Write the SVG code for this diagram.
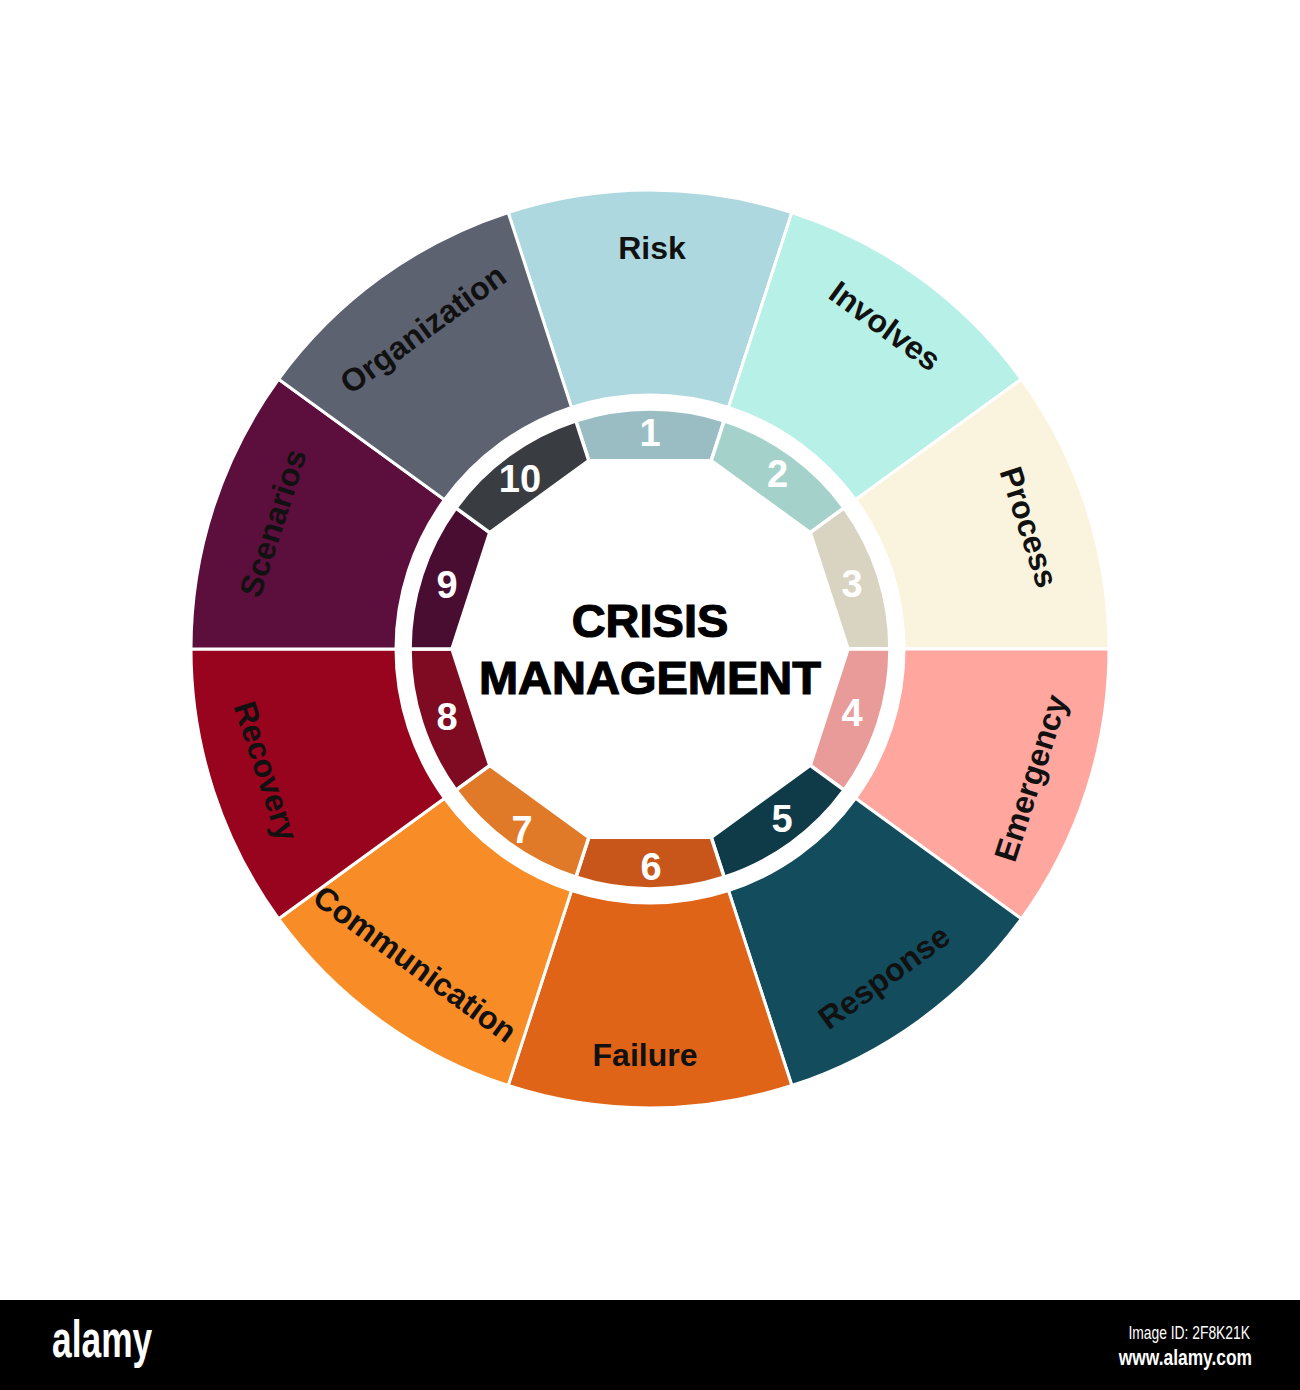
<svg xmlns="http://www.w3.org/2000/svg" xmlns:xlink="http://www.w3.org/1999/xlink" width="1300" height="1390" viewBox="0 0 1300 1390">
  <style>
    .seg { stroke: #ffffff; stroke-width: 3; stroke-linejoin: miter; }
    .num { stroke: #ffffff; stroke-width: 3.5; }
    .lbl { font-family: "Liberation Sans", Arial, sans-serif; font-weight: bold; font-size: 32px; fill: #111111; text-anchor: middle; }
    .n { font-family: "Liberation Sans", Arial, sans-serif; font-weight: bold; font-size: 38px; fill: #ffffff; text-anchor: middle; }
    .title { font-family: "Liberation Sans", Arial, sans-serif; font-weight: bold; font-size: 47px; fill: #000000; stroke: #000000; stroke-width: 1.2; text-anchor: middle; }
    .foot { font-family: "Liberation Sans", Arial, sans-serif; fill: #ffffff; }
  </style>
  <defs>
    <path id="outerSeg" d="M 571.51 407.43 L 508.16 212.46 A 459 459 0 0 1 791.84 212.46 L 728.49 407.43 A 254 254 0 0 0 571.51 407.43 Z"/>
    <path id="innerSeg" d="M 588.81 460.69 L 575.84 420.75 A 240 240 0 0 1 724.16 420.75 L 711.19 460.69 Z"/>
  </defs>
  <rect x="0" y="0" width="1300" height="1390" fill="#ffffff"/>

  <g id="seg1">
    <use xlink:href="#outerSeg" href="#outerSeg" class="seg" fill="#AED8DF"/>
    <use xlink:href="#innerSeg" href="#innerSeg" class="num" fill="#99BDC3"/>
    <text class="lbl" transform="translate(652,248)" y="11">Risk</text>
    <text class="n" x="650" y="446">1</text>
  </g>
  <g id="seg2">
    <use xlink:href="#outerSeg" href="#outerSeg" class="seg" fill="#B6F0E6" transform="rotate(36 650 649)"/>
    <use xlink:href="#innerSeg" href="#innerSeg" class="num" fill="#A4D2CA" transform="rotate(36 650 649)"/>
    <text class="lbl" transform="translate(885,326) rotate(36)" y="11">Involves</text>
    <text class="n" x="777.5" y="487">2</text>
  </g>
  <g id="seg3">
    <use xlink:href="#outerSeg" href="#outerSeg" class="seg" fill="#FAF4DF" transform="rotate(72 650 649)"/>
    <use xlink:href="#innerSeg" href="#innerSeg" class="num" fill="#D9D3C2" transform="rotate(72 650 649)"/>
    <text class="lbl" transform="translate(1029,527) rotate(72)" y="11">Process</text>
    <text class="n" x="852" y="597">3</text>
  </g>
  <g id="seg4">
    <use xlink:href="#outerSeg" href="#outerSeg" class="seg" fill="#FFA69F" transform="rotate(108 650 649)"/>
    <use xlink:href="#innerSeg" href="#innerSeg" class="num" fill="#E89B98" transform="rotate(108 650 649)"/>
    <text class="lbl" transform="translate(1031,778) rotate(-72)" y="11">Emergency</text>
    <text class="n" x="852" y="726">4</text>
  </g>
  <g id="seg5">
    <use xlink:href="#outerSeg" href="#outerSeg" class="seg" fill="#134C5D" transform="rotate(144 650 649)"/>
    <use xlink:href="#innerSeg" href="#innerSeg" class="num" fill="#0F3A48" transform="rotate(144 650 649)"/>
    <text class="lbl" transform="translate(884,977) rotate(-36)" y="11">Response</text>
    <text class="n" x="782" y="832">5</text>
  </g>
  <g id="seg6">
    <use xlink:href="#outerSeg" href="#outerSeg" class="seg" fill="#E06418" transform="rotate(180 650 649)"/>
    <use xlink:href="#innerSeg" href="#innerSeg" class="num" fill="#C8561A" transform="rotate(180 650 649)"/>
    <text class="lbl" transform="translate(645,1055)" y="11">Failure</text>
    <text class="n" x="651" y="880">6</text>
  </g>
  <g id="seg7">
    <use xlink:href="#outerSeg" href="#outerSeg" class="seg" fill="#F88D28" transform="rotate(216 650 649)"/>
    <use xlink:href="#innerSeg" href="#innerSeg" class="num" fill="#E07A28" transform="rotate(216 650 649)"/>
    <text class="lbl" transform="translate(415,964) rotate(36)" y="11">Communication</text>
    <text class="n" x="522" y="843">7</text>
  </g>
  <g id="seg8">
    <use xlink:href="#outerSeg" href="#outerSeg" class="seg" fill="#98041E" transform="rotate(252 650 649)"/>
    <use xlink:href="#innerSeg" href="#innerSeg" class="num" fill="#7E0B22" transform="rotate(252 650 649)"/>
    <text class="lbl" transform="translate(266,771) rotate(72)" y="11">Recovery</text>
    <text class="n" x="447" y="730">8</text>
  </g>
  <g id="seg9">
    <use xlink:href="#outerSeg" href="#outerSeg" class="seg" fill="#5C0F3C" transform="rotate(288 650 649)"/>
    <use xlink:href="#innerSeg" href="#innerSeg" class="num" fill="#4A0D32" transform="rotate(288 650 649)"/>
    <text class="lbl" transform="translate(273,523) rotate(-72)" y="11">Scenarios</text>
    <text class="n" x="447" y="598">9</text>
  </g>
  <g id="seg10">
    <use xlink:href="#outerSeg" href="#outerSeg" class="seg" fill="#5D6270" transform="rotate(324 650 649)"/>
    <use xlink:href="#innerSeg" href="#innerSeg" class="num" fill="#393C41" transform="rotate(324 650 649)"/>
    <text class="lbl" transform="translate(423,329) rotate(-36)" y="11">Organization</text>
    <text class="n" x="520" y="492">10</text>
  </g>

  <g id="center">
    <text class="title" x="650" y="637">CRISIS</text>
    <text class="title" x="650" y="694">MANAGEMENT</text>
  </g>

  <g id="connectors"></g>

  <g id="footer">
    <rect x="0" y="1300" width="1300" height="90" fill="#000000"/>
    <text class="foot" transform="translate(52,1357) scale(0.68,1)" font-size="52" font-weight="bold">alamy</text>
    <text class="foot" transform="translate(1250,1339) scale(0.77,1)" font-size="18" text-anchor="end">Image ID: 2F8K21K</text>
    <text class="foot" transform="translate(1252,1365) scale(0.79,1)" font-size="22" font-weight="bold" text-anchor="end">www.alamy.com</text>
  </g>
</svg>
